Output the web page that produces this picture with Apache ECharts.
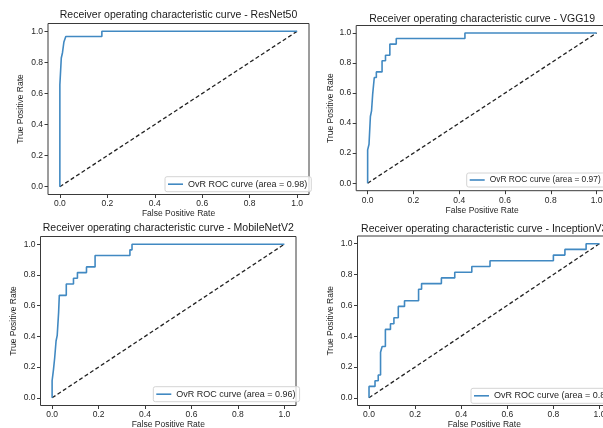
<!DOCTYPE html>
<html>
<head>
<meta charset="utf-8">
<script src="https://cdn.jsdelivr.net/npm/echarts@6/dist/echarts.min.js"></script>
<style>
html,body{margin:0;padding:0;background:#fff;}
#main{width:603px;height:428px;}
</style>
</head>
<body>
<div id="main"></div>
<script>
// ---- data ----
const tickValues = [0, 0.2, 0.4, 0.6, 0.8, 1.0];
const tickLabels = ['0.0', '0.2', '0.4', '0.6', '0.8', '1.0'];
const models = ['ResNet50', 'VGG19', 'MobileNetV2', 'InceptionV3'];
const aucs = ['0.98', '0.97', '0.96', '0.87'];

const resnetFpr = [0, 0, 0.006, 0.006, 0.011, 0.011, 0.017, 0.017, 0.025, 0.025, 0.177, 0.177, 1];
const resnetTpr = [0, 0.655, 0.655, 0.828, 0.828, 0.862, 0.862, 0.931, 0.931, 0.966, 0.966, 1, 1];

const vggFpr = [0, 0, 0.006, 0.006, 0.012, 0.012, 0.017, 0.017, 0.022, 0.022, 0.029, 0.029, 0.038, 0.038, 0.063, 0.063, 0.078, 0.078, 0.097, 0.097, 0.125, 0.125, 0.425, 0.425, 1];
const vggTpr = [0, 0.222, 0.222, 0.259, 0.259, 0.444, 0.444, 0.481, 0.481, 0.593, 0.593, 0.704, 0.704, 0.741, 0.741, 0.815, 0.815, 0.852, 0.852, 0.926, 0.926, 0.963, 0.963, 1, 1];

const mobileFpr = [0, 0, 0.006, 0.006, 0.011, 0.011, 0.017, 0.017, 0.022, 0.022, 0.028, 0.028, 0.031, 0.031, 0.061, 0.061, 0.092, 0.092, 0.109, 0.109, 0.148, 0.148, 0.185, 0.185, 0.335, 0.335, 0.344, 0.344, 1];
const mobileTpr = [0, 0.111, 0.111, 0.185, 0.185, 0.259, 0.259, 0.370, 0.370, 0.407, 0.407, 0.556, 0.556, 0.667, 0.667, 0.741, 0.741, 0.778, 0.778, 0.815, 0.815, 0.852, 0.852, 0.926, 0.926, 0.963, 0.963, 1, 1];

const inceptionFpr = [0, 0, 0.026, 0.026, 0.04, 0.04, 0.05, 0.05, 0.057, 0.057, 0.071, 0.071, 0.093, 0.093, 0.108, 0.108, 0.127, 0.127, 0.154, 0.154, 0.215, 0.215, 0.228, 0.228, 0.314, 0.314, 0.372, 0.372, 0.446, 0.446, 0.525, 0.525, 0.80, 0.80, 0.85, 0.85, 0.942, 0.942, 1];
const inceptionTpr = [0, 0.074, 0.074, 0.111, 0.111, 0.148, 0.148, 0.296, 0.296, 0.333, 0.333, 0.444, 0.444, 0.481, 0.481, 0.519, 0.519, 0.593, 0.593, 0.630, 0.630, 0.704, 0.704, 0.741, 0.741, 0.778, 0.778, 0.815, 0.815, 0.852, 0.852, 0.889, 0.889, 0.926, 0.926, 0.963, 0.963, 1, 1];

const chanceFpr = [0, 1];
const chanceTpr = [0, 1];

// ---- layout (pixels) ----
const grids = [
  {left: 48, top: 23.5, width: 261, height: 171},
  {left: 356.2, top: 25.5, width: 251.8, height: 165.2},
  {left: 40.5, top: 236.5, width: 255.5, height: 169},
  {left: 357.5, top: 236, width: 253.5, height: 169.5}
];
const titleY = [15, 19.3, 228.3, 229];
const yNameGap = [23, 20, 22, 22.5];
const legendPos = [
  {left: 165, top: 176.7, size: 9},
  {left: 466.7, top: 173, size: 8.4},
  {left: 153.3, top: 386.7, size: 9},
  {left: 471, top: 388.3, size: 9}
];

const curves = [[resnetFpr, resnetTpr], [vggFpr, vggTpr], [mobileFpr, mobileTpr], [inceptionFpr, inceptionTpr]];
const zip = (a, b) => a.map((v, i) => [v, b[i]]);

const FONT = "'Liberation Sans', Arial, sans-serif";
const TXT = '#262626';
const ROC_COLOR = '#4189c2';

const option = {
  backgroundColor: '#ffffff',
  animation: false,
  grid: grids.map(g => Object.assign({show: true, borderColor: '#3a3a3a', borderWidth: 1, backgroundColor: 'transparent', containLabel: false, outerBoundsMode: 'none'}, g)),
  xAxis: grids.map((g, i) => ({
    type: 'value', gridIndex: i, min: -0.05, max: 1.05,
    name: 'False Positive Rate', nameLocation: 'middle', nameGap: 15,
    nameTextStyle: {fontFamily: FONT, fontSize: 8.5, color: TXT},
    axisLine: {show: false, onZero: false},
    splitLine: {show: false},
    axisTick: {show: true, length: 3.5, customValues: tickValues, lineStyle: {color: '#3a3a3a', width: 1}},
    axisLabel: {customValues: tickValues, margin: 5, fontFamily: FONT, fontSize: 8.5, color: TXT,
      formatter: v => tickLabels[tickValues.findIndex(t => Math.abs(t - v) < 1e-6)] || ''}
  })),
  yAxis: grids.map((g, i) => ({
    type: 'value', gridIndex: i, min: -0.05, max: 1.05,
    name: 'True Positive Rate', nameLocation: 'middle', nameGap: yNameGap[i], nameRotate: 90,
    nameTextStyle: {fontFamily: FONT, fontSize: 8.5, color: TXT},
    axisLine: {show: false, onZero: false},
    splitLine: {show: false},
    axisTick: {show: true, length: 3.5, customValues: tickValues, lineStyle: {color: '#3a3a3a', width: 1}},
    axisLabel: {customValues: tickValues, margin: 5, fontFamily: FONT, fontSize: 8.5, color: TXT,
      formatter: v => tickLabels[tickValues.findIndex(t => Math.abs(t - v) < 1e-6)] || ''}
  })),
  legend: grids.map((g, i) => ({
    data: ['OvR ROC curve (area = ' + aucs[i] + ')'],
    left: legendPos[i].left, top: legendPos[i].top,
    orient: 'horizontal', selectedMode: false,
    icon: 'rect', itemWidth: 15, itemHeight: 1.6,
    padding: [3, 4, 3, 3],
    borderColor: '#d4d4d4', borderWidth: 1, borderRadius: 2,
    backgroundColor: 'rgba(255,255,255,0.8)',
    textStyle: {fontFamily: FONT, fontSize: legendPos[i].size, color: TXT}
  })),
  graphic: grids.map((g, i) => ({
    type: 'text', x: g.left + g.width / 2, y: titleY[i],
    style: {text: 'Receiver operating characteristic curve - ' + models[i],
      font: '10.5px ' + FONT, fill: '#1a1a1a',
      textAlign: 'center', textVerticalAlign: 'middle', align: 'center', verticalAlign: 'middle'}
  })),
  series: []
};

curves.forEach((c, i) => {
  option.series.push({
    type: 'line', name: 'OvR ROC curve (area = ' + aucs[i] + ')',
    xAxisIndex: i, yAxisIndex: i, data: zip(c[0], c[1]),
    symbol: 'none', showSymbol: false, smooth: false,
    lineStyle: {color: ROC_COLOR, width: 1.6}, itemStyle: {color: ROC_COLOR},
    z: 3
  });
  option.series.push({
    type: 'line', name: 'chance' + i,
    xAxisIndex: i, yAxisIndex: i, data: zip(chanceFpr, chanceTpr),
    symbol: 'none', showSymbol: false,
    lineStyle: {color: '#222222', width: 1.3, type: [4, 2.5]},
    z: 2
  });
});

const chart = echarts.init(document.getElementById('main'), null, {renderer: 'canvas'});
chart.setOption(option);
</script>
</body>
</html>
